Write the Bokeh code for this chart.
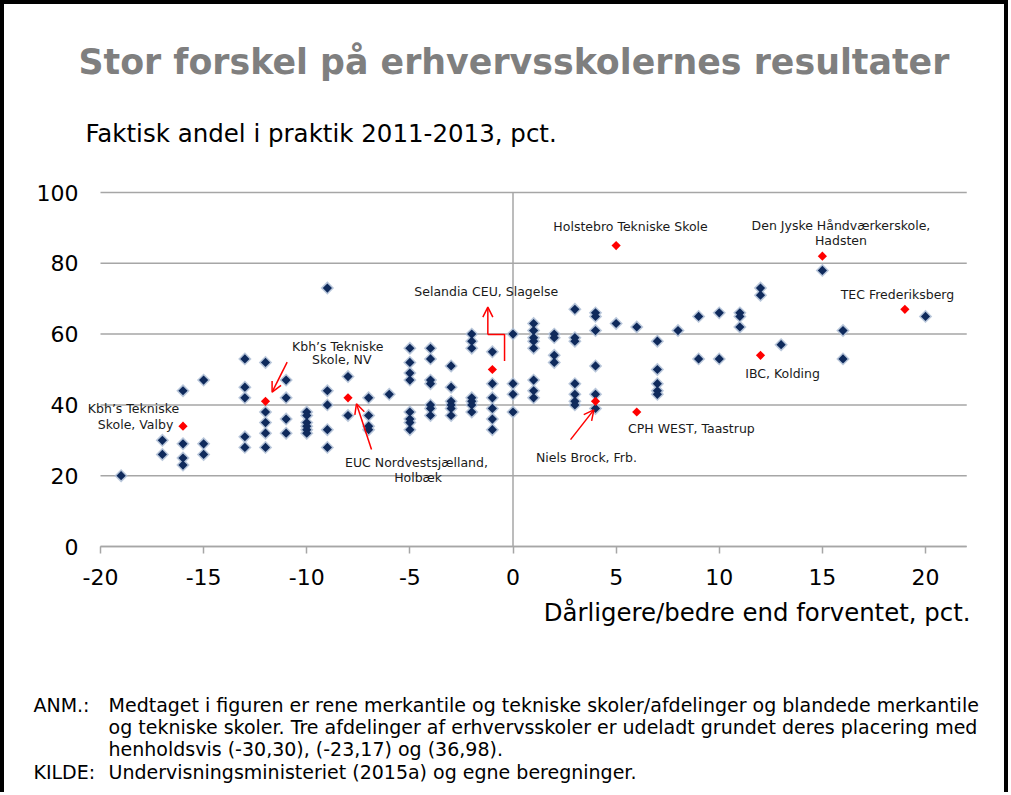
import numpy as np
from bokeh.plotting import figure
from bokeh.models import Label, Arrow, OpenHead, FixedTicker, Range1d
from bokeh.embed import file_html
from bokeh.resources import INLINE

# ---------------- data ----------------
x_ticks = [-20, -15, -10, -5, 0, 5, 10, 15, 20]
x_tick_labels = ["-20", "-15", "-10", "-5", "0", "5", "10", "15", "20"]
y_ticks = [0, 20, 40, 60, 80, 100]
y_tick_labels = ["0", "20", "40", "60", "80", "100"]
x_min, x_max = -20, 22
y_min, y_max = 0, 100

dark_x = ([-19] + [-17] * 2 + [-16] * 4 + [-15] * 3 + [-13] * 5 + [-12] * 5 + [-11] * 4
          + [-10] * 6 + [-9] * 5 + [-8] * 2 + [-7] * 4 + [-6] + [-5] * 8 + [-4] * 7
          + [-3] * 6 + [-2] * 7 + [-1] * 6 + [0] * 4 + [1] * 8 + [2] * 4 + [3] * 7
          + [4] * 6 + [5] + [6] + [7] * 5 + [8] + [9] * 2 + [10] * 2 + [11] * 3
          + [12] * 2 + [13] + [15] + [16] * 2 + [20])
dark_y = ([20]
          + [30, 26]
          + [44, 29, 25, 23]
          + [47, 29, 26]
          + [53, 45, 42, 31, 28]
          + [52, 38, 35, 32, 28]
          + [47, 42, 36, 32]
          + [38, 37, 35, 34, 33, 32]
          + [73, 44, 40, 33, 28]
          + [48, 37]
          + [42, 37, 34, 33]
          + [43]
          + [56, 52, 49, 47, 38, 36, 35, 33]
          + [56, 53, 47, 46, 40, 39, 37]
          + [51, 45, 41, 40, 39, 37]
          + [60, 58, 56, 42, 41, 40, 38]
          + [55, 46, 42, 39, 36, 33]
          + [60, 46, 43, 38]
          + [63, 61, 59, 58, 56, 47, 44, 42]
          + [60, 59, 54, 52]
          + [67, 59, 58, 46, 43, 41, 40]
          + [66, 65, 61, 51, 43, 39]
          + [63]
          + [62]
          + [58, 50, 46, 44, 43]
          + [61]
          + [65, 53]
          + [66, 53]
          + [66, 65, 62]
          + [73, 71]
          + [57]
          + [78]
          + [61, 53]
          + [65])

red_x = [-16, -12, -8, -1, 4, 5, 6, 12, 15, 19]
red_y = [34, 41, 42, 50, 41, 85, 38, 54, 82, 67]

title_text = "Stor forskel på erhvervsskolernes resultater"
subtitle_text = "Faktisk andel i praktik 2011-2013, pct."
xtitle_text = "Dårligere/bedre end forventet, pct."
note_lines = [
    ("ANM.:", "Medtaget i figuren er rene merkantile og tekniske skoler/afdelinger og blandede merkantile"),
    ("", "og tekniske skoler. Tre afdelinger af erhvervsskoler er udeladt grundet deres placering med"),
    ("", "henholdsvis (-30,30), (-23,17) og (36,98)."),
    ("KILDE:", "Undervisningsministeriet (2015a) og egne beregninger."),
]

FONT = "DejaVu Sans"
GRID = "#a6a6a6"

# ---------------- layout geometry (canvas pixels) ----------------
W, H = 1000, 788
plot_left, plot_right = 96.0, 962.25    # where x_min / x_max land
plot_top, plot_bottom = 188.0, 542.0    # where y_max / y_min land
sx = (plot_right - plot_left) / (x_max - x_min)
sy = (plot_bottom - plot_top) / (y_max - y_min)
xr0 = x_min - plot_left / sx
xr1 = xr0 + W / sx
yr1 = y_max + plot_top / sy
yr0 = yr1 - H / sy

p = figure(frame_width=W, frame_height=H,
           x_range=Range1d(xr0, xr1), y_range=Range1d(yr0, yr1),
           output_backend="svg", toolbar_location=None,
           min_border_left=0, min_border_right=0,
           min_border_top=0, min_border_bottom=0)
p.styles = {"border-top": "4px solid black", "border-left": "4px solid black",
            "border-right": "4px solid black"}
p.outline_line_color = None
p.background_fill_color = "white"
p.border_fill_color = "white"
p.xgrid.grid_line_color = None
p.ygrid.grid_line_color = None

# x axis drawn at y = 0
xa = p.xaxis[0]
xa.fixed_location = 0
xa.bounds = (x_min, x_max)
xa.ticker = FixedTicker(ticks=x_ticks)
xa.major_label_overrides = dict(zip(x_ticks, x_tick_labels))
xa.axis_line_color = GRID
xa.axis_line_width = 1.5
xa.major_tick_line_color = GRID
xa.major_tick_line_width = 1.5
xa.major_tick_out = 7
xa.major_tick_in = 0
xa.minor_tick_line_color = None
xa.major_label_text_font = FONT
xa.major_label_text_font_size = "22px"
xa.major_label_text_color = "black"
xa.major_label_standoff = 15

# y axis labels left of x = -20
ya = p.yaxis[0]
ya.fixed_location = x_min
ya.bounds = (y_min, y_max)
ya.ticker = FixedTicker(ticks=y_ticks)
ya.major_label_overrides = dict(zip(y_ticks, y_tick_labels))
ya.axis_line_color = None
ya.major_tick_line_color = None
ya.minor_tick_line_color = None
ya.major_tick_out = 0
ya.major_tick_in = 0
ya.major_label_text_font = FONT
ya.major_label_text_font_size = "22px"
ya.major_label_text_color = "black"
ya.major_label_standoff = 22

# horizontal gridlines and the vertical zero line
p.segment(x0=[x_min] * len(y_ticks), y0=y_ticks, x1=[x_max] * len(y_ticks), y1=y_ticks,
          line_color=GRID, line_width=1.5)
p.segment(x0=[0], y0=[y_min], x1=[0], y1=[y_max], line_color=GRID, line_width=1.5)

# points
p.scatter(dark_x, dark_y, marker="square", angle=np.pi / 4, size=9.5,
          fill_color="#b0c0d6", fill_alpha=0.9, line_color=None)
p.scatter(dark_x, dark_y, marker="square", angle=np.pi / 4, size=6.5,
          fill_color="#0f2a5c", line_color=None)
p.scatter(red_x, red_y, marker="square", angle=np.pi / 4, size=6.5,
          fill_color="#ff0000", line_color=None)

# ---------------- annotations ----------------
def lab(x, y, text, size="12.5px", align="center", color="#1a1a1a", bold=False, baseline="middle"):
    p.add_layout(Label(x=x, y=y, text=text, text_font=FONT, text_font_size=size,
                       text_align=align, text_baseline=baseline, text_color=color,
                       text_font_style="bold" if bold else "normal"))

point_labels = [
    (-18.4, 38.9, "Kbh\u2019s Tekniske"), (-18.3, 34.5, "Skole, Valby"),
    (-8.5, 56.5, "Kbh\u2019s Tekniske"), (-8.3, 52.7, "Skole, NV"),
    (-4.68, 23.6, "EUC Nordvestsjælland,"), (-4.6, 19.6, "Holbæk"),
    (-1.3, 72.1, "Selandia CEU, Slagelse"),
    (3.56, 25.2, "Niels Brock, Frb."),
    (5.7, 90.4, "Holstebro Tekniske Skole"),
    (8.65, 33.2, "CPH WEST, Taastrup"),
    (13.07, 48.8, "IBC, Kolding"),
    (15.9, 90.7, "Den Jyske Håndværkerskole,"), (15.9, 86.4, "Hadsten"),
    (18.64, 71.1, "TEC Frederiksberg"),
]
for x, y, t in point_labels:
    lab(x, y, t)

def arrow(x0, y0, x1, y1):
    p.add_layout(Arrow(end=OpenHead(size=10, line_color="red", line_width=1.5),
                       x_start=x0, y_start=y0, x_end=x1, y_end=y1,
                       line_color="red", line_width=1.5))

arrow(-10.95, 52.1, -11.68, 43.6)
arrow(-6.86, 27.4, -7.59, 40.3)
arrow(2.79, 30.2, 3.92, 38.6)
p.line([-0.41, -0.41, -1.22], [52.4, 59.9, 59.9], line_color="red", line_width=1.5)
arrow(-1.22, 59.9, -1.22, 67.6)

# title, subtitle, axis title
lab(-21.07, 137.0, title_text, size="34.8px", align="left", color="#7f7f7f", bold=True)
lab(-20.73, 116.7, subtitle_text, size="24.5px", align="left", color="black")
lab(22.18, -18.6, xtitle_text, size="24.4px", align="right", color="black")

note_y = [-44.9, -51.1, -57.3, -63.8]
for (head, body), yy in zip(note_lines, note_y):
    if head:
        lab(-23.25, yy, head, size="19px", align="left", color="black")
    lab(-19.61, yy, body, size="19px", align="left", color="black")

open("out.html", "w").write(file_html(p, INLINE))
